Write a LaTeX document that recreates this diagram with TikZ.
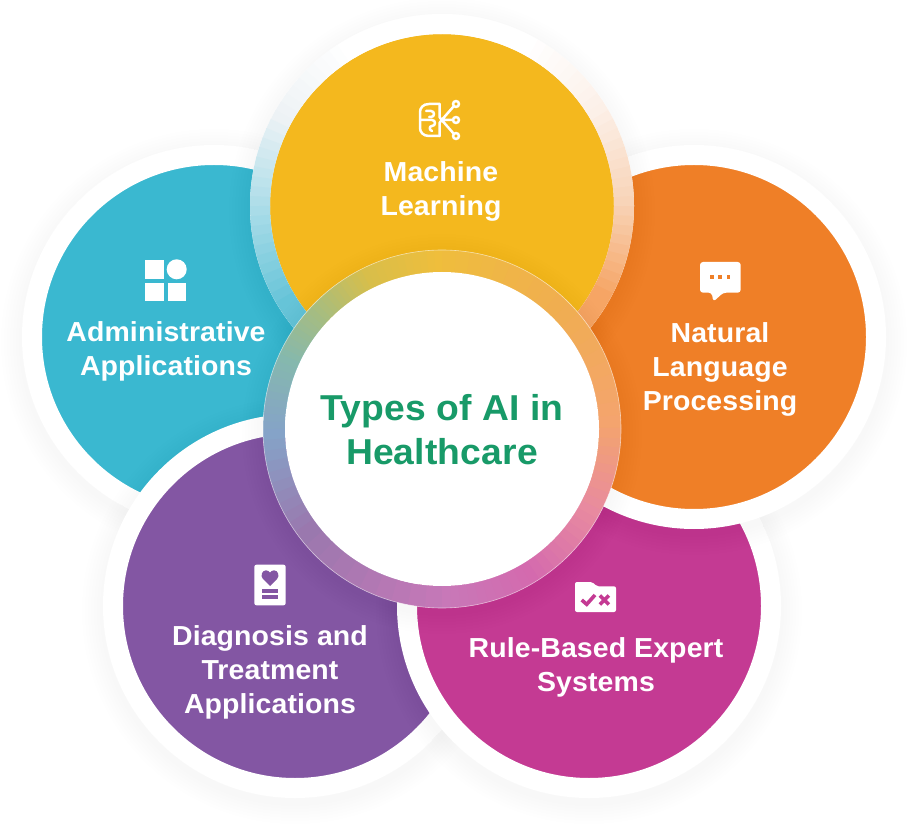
\documentclass[tikz,border=0pt]{standalone}
\usepackage{fontspec}
\setmainfont[FakeStretch=1.035, LetterSpace=0.4]{Liberation Sans}
\definecolor{adminteal}{HTML}{3AB8D0}
\definecolor{mlyellow}{HTML}{F4B81E}
\definecolor{nlporange}{HTML}{EF7F27}
\definecolor{diagpurple}{HTML}{8356A3}
\definecolor{rulepink}{HTML}{C43A93}
\definecolor{titlegreen}{HTML}{189A68}
\tikzset{
    petal/.style={circle, minimum size=364pt, inner sep=0pt, draw=white, line width=20pt},
    petaltext/.style={text=white, align=center, font=\fontsize{27.5}{34}\selectfont\bfseries},
    icon/.style={fill=white, draw=none},
    brainline/.style={draw=white, line width=2.5pt, line cap=round, line join=round}
}
% soft shadow below a disc: x, y, radius
\newcommand{\softshadow}[3]{
    \foreach \i in {1,...,7} {
        \fill[black, opacity=0.005] (#1,#2-5) circle (#3+\i*3);
    }
}
% ring with colours changing by angle: x, y, radius, width, stops
\newcommand{\glassring}[5]{
    \foreach \angA/\angB/\colA/\colB in {#5} {
        \definecolor{segA}{HTML}{\colA}
        \definecolor{segB}{HTML}{\colB}
        \foreach \p in {0,10,...,90} {
            \pgfmathsetmacro{\t}{\angA+(\angB-\angA)*\p/100}
            \pgfmathsetmacro{\e}{\t+(\angB-\angA)/10+0.4}
            \colorlet{segcol}{segB!\p!segA}
            \draw[segcol, line width=#4pt] ([shift={(\t:#3)}]#1,#2) arc (\t:\e:#3);
        }
    }
}
\begin{document}
\begin{tikzpicture}[x=1pt, y=1pt]
    \useasboundingbox (0,0) rectangle (909,828);

    % Left petal
    \softshadow{214}{491}{192}
    \node[petal, fill=adminteal] (admin) at (214,491) {};

    % Lower left petal
    \softshadow{295}{222}{192}
    \node[petal, fill=diagpurple] (diag) at (295,222) {};

    % Lower right petal
    \softshadow{589}{222}{192}
    \node[petal, fill=rulepink] (rule) at (589,222) {};

    % Right petal
    \softshadow{694}{491}{192}
    \node[petal, fill=nlporange] (nlp) at (694,491) {};

    % Top petal with its glass ring
    \softshadow{442}{622}{192}
    \node[petal, fill=mlyellow] (ml) at (442,622) {};
    \glassring{442}{622}{182}{20}{-90/-30/F5A45E/F6A565, -30/0/F6A565/F8D4B8, 0/30/F8D4B8/FCF0E8, 30/60/FCF0E8/FFFFFF, 60/120/FFFFFF/FFFFFF, 120/150/FFFFFF/EDF2F5, 150/180/EDF2F5/A9DCE8, 180/210/A9DCE8/66C4D8, 210/270/66C4D8/5BC0D6}

    % Center disc
    \softshadow{442}{399}{179}
    \glassring{442}{399}{168}{22}{0/45/F4A46E/F0AE50, 45/90/F0AE50/EFBE3C, 90/115/EFBE3C/D8BE4A, 115/135/D8BE4A/A8BD7E, 135/155/A8BD7E/85B8AE, 155/180/85B8AE/85A3C8, 180/215/85A3C8/9A78AE, 215/270/9A78AE/C878B8, 270/300/C878B8/D46AAE, 300/330/D46AAE/E88AA0, 330/360/E88AA0/F4A46E}
    \draw[white, line width=0.6pt, opacity=0.6] (442,399) circle (179);
    \node[circle, fill=white, minimum size=314pt, inner sep=0pt] (center) at (442,399) {};
    \node[text=titlegreen, align=center, font=\fontsize{36}{44}\selectfont\bfseries] (title) at (442,398.5) {Types of AI in\\Healthcare};

    % Petal texts
    \node[petaltext] (mltext) at (441,637) {Machine\\Learning};
    \node[petaltext] (admintext) at (166,477) {Administrative\\Applications};
    \node[petaltext] (nlptext) at (720,459) {Natural\\Language\\Processing};
    \node[petaltext] (ruletext) at (596,161) {Rule-Based Expert\\Systems};
    \node[petaltext] (diagtext) at (270,156) {Diagnosis and\\Treatment\\Applications};

    % Grid icon
    \begin{scope}[shift={(166,548)}]
        \fill[icon] (-20.7,1) rectangle (-2.3,20);
        \fill[icon] (-20.7,-20.7) rectangle (-2.3,-2.7);
        \fill[icon] (1.7,-20.7) rectangle (19.7,-2.7);
        \fill[icon] (10.7,10.7) circle (10);
    \end{scope}

    % Brain icon
    \begin{scope}[shift={(438,708)}]
        \draw[brainline] (1.5,16) -- (-9,16) .. controls (-15,16) and (-18,12) .. (-18,8) -- (-18,-8) .. controls (-18,-12) and (-15,-16) .. (-9,-16) -- (1.5,-16);
        \draw[brainline] (1.5,16) -- (1.5,3) -- (3.7,0) -- (1.5,-3) -- (1.5,-16);
        \draw[brainline] (-12,9) -- (-7,9) .. controls (-3,9) and (-3,3) .. (-7,3) -- (-9,3);
        \draw[brainline] (-18,0) -- (-6,0) .. controls (-2,0) and (-2,-6) .. (-6,-6) .. controls (-9,-6) and (-9,-10) .. (-6,-11);
        \draw[brainline] (3.7,0) -- (15,0) (3.7,0) -- (15.8,13.8) (3.7,0) -- (15.8,-13.8);
        \draw[brainline] (18,16) circle (3) (18,0) circle (3) (18,-16) circle (3);
    \end{scope}

    % Chat icon
    \begin{scope}[shift={(720,551)}]
        \fill[icon, rounded corners=3pt] (-20,15) -- (20.7,15) -- (20.7,-15.7) -- (3.3,-15.7) -- (-6.7,-24.7) -- (-8.3,-15.7) -- (-20,-15.7) -- cycle;
        \foreach \dotx in {-8.3,0,8.3} {
            \fill[nlporange] (\dotx-1.8,-2) rectangle (\dotx+1.8,1.6);
        }
    \end{scope}

    % Card icon
    \begin{scope}[shift={(270,243)}]
        \fill[icon, rounded corners=2pt] (-15.6,-20.3) rectangle (15.6,20.3);
        \fill[diagpurple] (0,-1) -- (-7,6) .. controls (-10,9) and (-8,14.7) .. (-4,14.7) .. controls (-2,14.7) and (-1,13.5) .. (0,12.3) .. controls (1,13.5) and (2,14.7) .. (4,14.7) .. controls (8,14.7) and (10,9) .. (7,6) -- cycle;
        \fill[diagpurple] (-8,-7.6) rectangle (8,-3.6);
        \fill[diagpurple] (-8,-14.3) rectangle (8,-10.3);
    \end{scope}

    % Folder icon
    \begin{scope}[shift={(595.5,231)}]
        \fill[icon, rounded corners=2pt] (-20.5,15) -- (-3,15) -- (1,10.7) -- (20.5,10.7) -- (20.5,-15) -- (-20.5,-15) -- cycle;
        \draw[rulepink, line width=3.6pt] (-13.8,-3) -- (-8.8,-7.3) -- (-0.5,2);
        \draw[rulepink, line width=3.6pt] (4.3,-7.5) -- (13.3,1.5) (4.3,1.5) -- (13.3,-7.5);
    \end{scope}
\end{tikzpicture}
\end{document}
